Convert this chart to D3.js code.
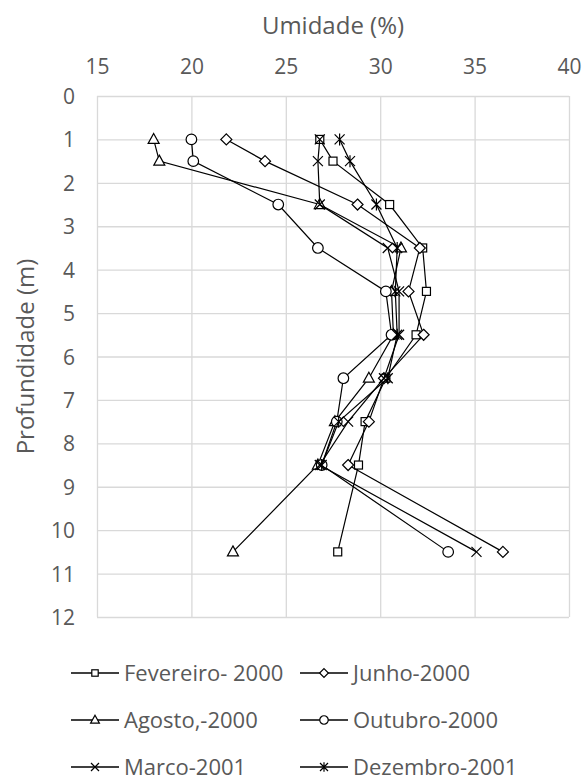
<!DOCTYPE html>
<html>
<head>
<meta charset="utf-8">
<script src="https://cdn.jsdelivr.net/npm/d3@7"></script>
<style>
  body { margin: 0; background: #fff; }
  svg text { font-family: "Open Sans", sans-serif; fill: #595959; }
</style>
</head>
<body>
<svg id="chart" width="584" height="780"></svg>
<script>
// depth (m) for every reading
const depths = [1, 1.5, 2.5, 3.5, 4.5, 5.5, 6.5, 7.5, 8.5, 10.5];

// moisture (%) per campaign
const fevereiro2000 = [26.8, 27.5, 30.5, 32.25, 32.45, 31.9, 30.3, 29.2, 28.85, 27.75];
const junho2000 = [21.85, 23.9, 28.8, 32.1, 31.5, 32.3, 30.2, 29.4, 28.3, 36.5];
const agosto2000 = [18.0, 18.3, 26.8, 31.1, 30.6, 30.7, 29.4, 27.6, 26.7, 22.2];
const outubro2000 = [20.0, 20.1, 24.6, 26.7, 30.3, 30.6, 28.05, 27.7, 26.9, 33.6];
const marco2001 = [26.8, 26.7, 26.8, 30.4, 31.0, 31.0, 30.2, 28.3, 26.8, 35.1];
const dezembro2001 = [27.85, 28.4, 29.8, 30.9, 30.8, 30.9, 30.4, 27.8, 26.9, null];

const seriesNames = ["Fevereiro- 2000", "Junho-2000", "Agosto,-2000", "Outubro-2000", "Marco-2001", "Dezembro-2001"];
const seriesMarkers = ["square", "diamond", "triangle", "circle", "x", "star"];
const seriesValues = [fevereiro2000, junho2000, agosto2000, outubro2000, marco2001, dezembro2001];

const xTicks = [15, 20, 25, 30, 35, 40];
const yTicks = [0, 1, 2, 3, 4, 5, 6, 7, 8, 9, 10, 11, 12];

const margin = { top: 96, right: 15, bottom: 163, left: 97 };
const width = 584 - margin.left - margin.right;
const height = 780 - margin.top - margin.bottom;

const svg = d3.select("#chart");
const g = svg.append("g").attr("transform", `translate(${margin.left},${margin.top})`);

const x = d3.scaleLinear().domain([15, 40]).range([0, width]);
const y = d3.scaleLinear().domain([0, 12]).range([0, height]);

// grid + tick labels
const xAxis = g.append("g")
  .call(d3.axisTop(x).tickValues(xTicks).tickSize(-height).tickPadding(22));
const yAxis = g.append("g")
  .call(d3.axisLeft(y).tickValues(yTicks).tickSize(-width).tickPadding(22));

[xAxis, yAxis].forEach((ax) => {
  ax.select(".domain").remove();
  ax.selectAll(".tick line").attr("stroke", "#d9d9d9").attr("stroke-width", 1.3);
  ax.selectAll(".tick text").style("font-size", "21px").attr("fill", "#595959");
});
yAxis.selectAll(".tick text").attr("dy", "0.36em");

g.append("text")
  .attr("x", width / 2)
  .attr("y", -62)
  .attr("text-anchor", "middle")
  .style("font-size", "24px")
  .text("Umidade (%)");

g.append("text")
  .attr("transform", "rotate(-90)")
  .attr("x", -height / 2)
  .attr("y", -63)
  .attr("text-anchor", "middle")
  .style("font-size", "24px")
  .text("Profundidade (m)");

function drawMarker(sel, type, s) {
  const k = s / 10;
  if (type === "square") {
    sel.append("rect").attr("x", -4 * k).attr("y", -4 * k).attr("width", 8 * k).attr("height", 8 * k);
  } else if (type === "diamond") {
    sel.append("path").attr("d", `M0,${-5.5 * k}L${5.5 * k},0L0,${5.5 * k}L${-5.5 * k},0Z`);
  } else if (type === "triangle") {
    sel.append("path").attr("d", `M0,${-6 * k}L${5.5 * k},${4 * k}L${-5.5 * k},${4 * k}Z`);
  } else if (type === "circle") {
    sel.append("circle").attr("r", 5.3 * k);
  } else if (type === "x") {
    sel.append("path").attr("d", `M${-5 * k},${-5 * k}L${5 * k},${5 * k}M${-5 * k},${5 * k}L${5 * k},${-5 * k}`);
  } else if (type === "star") {
    sel.append("path").attr("d", `M${-5 * k},${-5 * k}L${5 * k},${5 * k}M${-5 * k},${5 * k}L${5 * k},${-5 * k}M0,${-6 * k}L0,${6 * k}`);
  }
  sel.selectAll("*").attr("fill", "#fff").attr("stroke", "#000").attr("stroke-width", 1.2);
}

const line = d3.line()
  .defined((d) => d.v != null)
  .x((d) => x(d.v))
  .y((d) => y(d.depth));

seriesValues.forEach((values, i) => {
  const pts = values.map((v, j) => ({ v: v, depth: depths[j] }));
  g.append("path")
    .datum(pts)
    .attr("fill", "none")
    .attr("stroke", "#000")
    .attr("stroke-width", 1.2)
    .attr("d", line);

  g.append("g")
    .selectAll("g")
    .data(pts.filter((d) => d.v != null))
    .join("g")
    .attr("transform", (d) => `translate(${x(d.v)},${y(d.depth)})`)
    .each(function () {
      drawMarker(d3.select(this), seriesMarkers[i], 10);
    });
});

// legend
const legend = svg.append("g");
seriesNames.forEach((name, i) => {
  const col = i % 2;
  const row = Math.floor(i / 2);
  const lx = col === 0 ? 71 : 300;
  const ly = 673 + row * 47;
  const item = legend.append("g").attr("transform", `translate(${lx},${ly})`);
  item.append("line")
    .attr("x1", 0).attr("x2", 48)
    .attr("stroke", "#000").attr("stroke-width", 1.4);
  const m = item.append("g").attr("transform", "translate(24,0)");
  drawMarker(m, seriesMarkers[i], 8);
  item.append("text")
    .attr("x", 53)
    .attr("dy", "0.35em")
    .style("font-size", "22px")
    .text(name);
});
</script>
</body>
</html>
